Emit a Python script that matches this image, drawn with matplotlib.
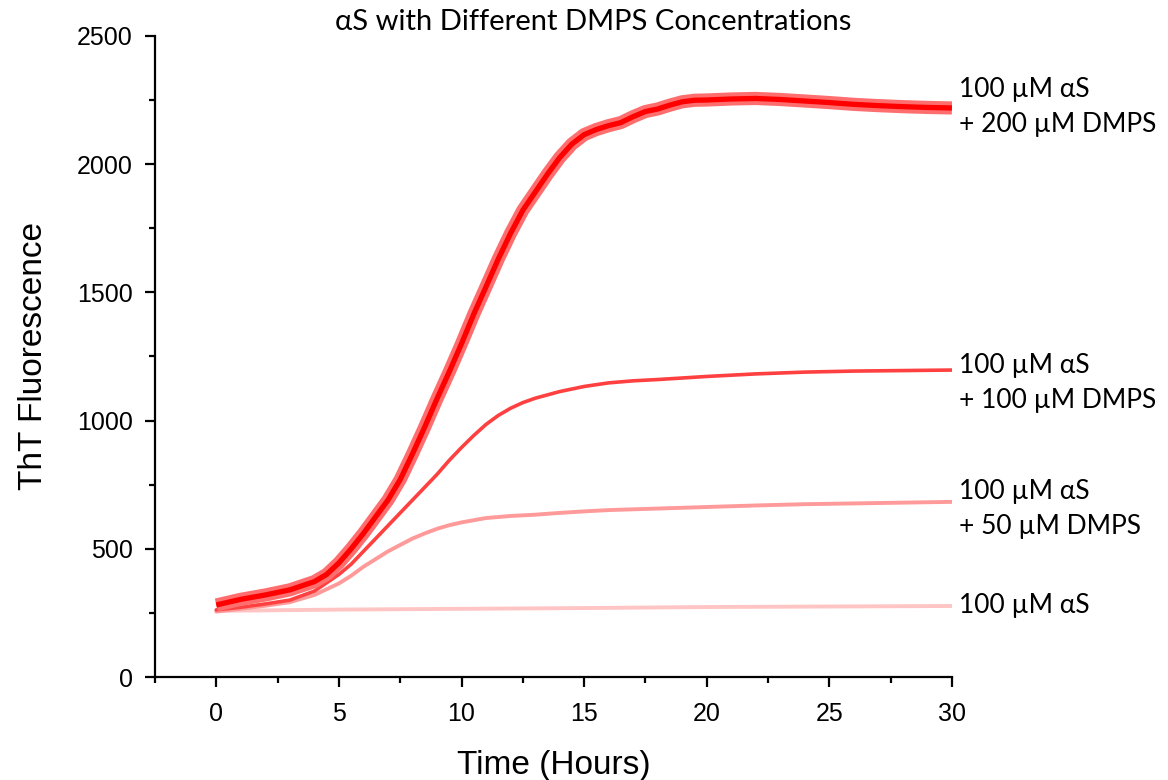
import matplotlib
matplotlib.use("Agg")
import matplotlib.pyplot as plt
from matplotlib.ticker import MultipleLocator

# 100 uM aS + 200 uM DMPS (mean, drawn with a light error band)
t_200 = [0, 1, 2, 3, 4, 4.5, 5, 5.5, 6, 6.5, 7, 7.5, 8, 8.5, 9, 9.5, 10, 10.5,
         11, 11.5, 12, 12.5, 13, 13.5, 14, 14.5, 15, 15.5, 16, 16.5, 17, 17.5,
         18, 18.5, 19, 19.5, 20, 21, 22, 23, 24, 25, 26, 27, 28, 29, 30]
y_200 = [281, 303, 320, 340, 372, 400, 445, 500, 560, 625, 690, 770, 870, 975,
         1085, 1190, 1300, 1415, 1522, 1630, 1730, 1820, 1890, 1960, 2025, 2078,
         2115, 2135, 2150, 2162, 2185, 2205, 2215, 2230, 2243, 2249, 2250, 2254,
         2256, 2252, 2246, 2240, 2233, 2228, 2224, 2221, 2219]

# 100 uM aS + 100 uM DMPS
t_100 = [0, 1, 2, 3, 4, 5, 5.5, 6, 6.5, 7, 7.5, 8, 8.5, 9, 9.5, 10, 10.5, 11,
         11.5, 12, 12.5, 13, 13.5, 14, 15, 16, 17, 18, 19, 20, 22, 24, 26, 28, 30]
y_100 = [262, 272, 285, 300, 335, 400, 440, 490, 540, 590, 640, 690, 740, 790,
         845, 895, 942, 985, 1020, 1048, 1070, 1087, 1100, 1113, 1133, 1147,
         1155, 1160, 1166, 1172, 1182, 1189, 1193, 1195, 1197]

# 100 uM aS + 50 uM DMPS
t_50 = [0, 1, 2, 3, 4, 5, 5.5, 6, 6.5, 7, 7.5, 8, 8.5, 9, 9.5, 10, 11, 12, 13,
        14, 15, 16, 18, 20, 22, 24, 26, 28, 30]
y_50 = [255, 266, 278, 292, 320, 365, 395, 430, 460, 490, 515, 540, 560, 578,
        592, 603, 620, 628, 633, 640, 646, 651, 657, 663, 669, 674, 677, 680, 683]

# 100 uM aS alone
t_as = [0, 5, 10, 15, 20, 25, 30]
y_as = [258, 263, 266, 269, 273, 275, 277]

labels = [
    "100 \u00b5M \u03b1S\n+ 200 \u00b5M DMPS",
    "100 \u00b5M \u03b1S\n+ 100 \u00b5M DMPS",
    "100 \u00b5M \u03b1S\n+ 50 \u00b5M DMPS",
    "100 \u00b5M \u03b1S",
]
label_y = [2222, 1145, 657, 277]

fig = plt.figure(figsize=(11.68, 7.8), dpi=100)
ax = fig.add_axes([0.1327, 0.132, 0.6823, 0.822])

ax.plot(t_as, y_as, color="#ffc4c4", lw=2.8, solid_capstyle="round")
ax.plot(t_50, y_50, color="#ff9a9a", lw=2.8, solid_capstyle="round")
ax.plot(t_100, y_100, color="#ff4040", lw=2.6, solid_capstyle="round")
ax.plot(t_200, y_200, color="#ff6e6e", lw=9.5, solid_capstyle="butt")
ax.plot(t_200, y_200, color="#ff0000", lw=3.8, solid_capstyle="butt")

ax.set_xlim(-2.5, 30)
ax.set_ylim(0, 2500)
ax.xaxis.set_major_locator(MultipleLocator(5))
ax.xaxis.set_minor_locator(MultipleLocator(2.5))
ax.yaxis.set_major_locator(MultipleLocator(500))
ax.yaxis.set_minor_locator(MultipleLocator(250))

for side in ["top", "right"]:
    ax.spines[side].set_visible(False)
for side in ["left", "bottom"]:
    ax.spines[side].set_linewidth(1.6)

ax.tick_params(which="major", length=7, width=1.6, direction="out", labelsize=18)
ax.tick_params(axis="x", which="major", pad=11)
ax.tick_params(axis="y", which="major", pad=9)
ax.tick_params(which="minor", length=4, width=1.6, direction="out")
for lab in ax.get_xticklabels() + ax.get_yticklabels():
    lab.set_fontfamily("Liberation Sans")

ax.set_xlabel("Time (Hours)", fontsize=24, family="Liberation Sans", labelpad=17)
ax.set_ylabel("ThT Fluorescence", fontsize=24, family="Liberation Sans", labelpad=20)

fig.text(0.508, 0.972, "\u03b1S with Different DMPS Concentrations",
         ha="center", va="center", fontsize=21, family=["Lato", "DejaVu Sans"])

for text, yv in zip(labels, label_y):
    ax.text(30.3, yv, text, ha="left", va="center", fontsize=19,
            family=["Lato", "DejaVu Sans"], linespacing=1.5, clip_on=False)

fig.savefig("out.png", dpi=100)
